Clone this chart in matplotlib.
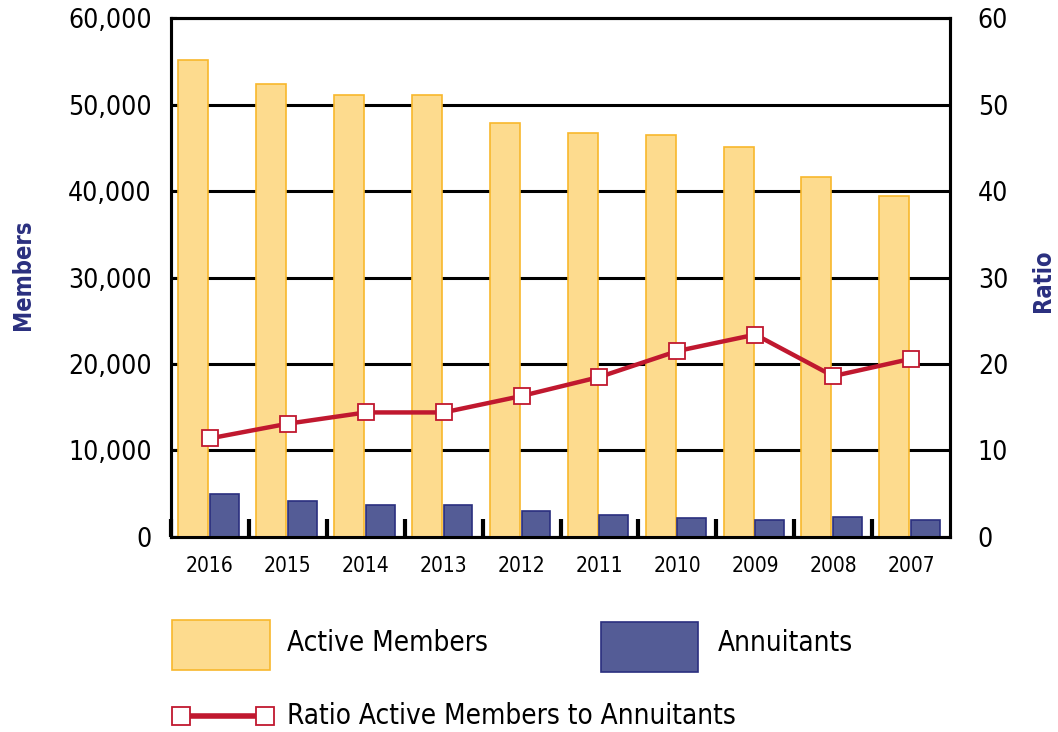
import numpy as np
import matplotlib
matplotlib.use('Agg')
import matplotlib.pyplot as plt
from matplotlib import font_manager
from matplotlib.patches import Rectangle
from matplotlib.lines import Line2D
from matplotlib.ticker import FuncFormatter

# pick a narrow font if one is installed
names = {(f.name, f.stretch) for f in font_manager.fontManager.ttflist}
font_names = {n for n, s in names}
if 'Liberation Sans Narrow' in font_names:
    plt.rcParams['font.family'] = ['Liberation Sans Narrow', 'DejaVu Sans']
elif any(n == 'DejaVu Sans' and s == 'condensed' for n, s in names):
    plt.rcParams['font.family'] = ['DejaVu Sans']
    plt.rcParams['font.stretch'] = 'condensed'
else:
    plt.rcParams['font.family'] = ['Liberation Sans', 'DejaVu Sans']

# Data
years = ['2016', '2015', '2014', '2013', '2012', '2011', '2010', '2009', '2008', '2007']
active_members = [55100, 52400, 51100, 51100, 47900, 46700, 46500, 45100, 41600, 39400]
annuitants = [5000, 4200, 3750, 3700, 3050, 2600, 2250, 2000, 2350, 2000]
ratio = [11.4, 13.1, 14.4, 14.4, 16.3, 18.5, 21.5, 23.4, 18.6, 20.6]

active_face = '#FDDB8E'
active_edge = '#F8B72C'
annu_face = '#545C96'
annu_edge = '#2A2F7F'
line_red = '#C0182F'
navy = '#2A2F7F'

fig = plt.figure(figsize=(10.58, 7.32), dpi=100)
ax = fig.add_axes([0.1616, 0.2664, 0.7364, 0.709])

x = np.arange(len(years))
ax.bar(x - 0.215, active_members, width=0.385, color=active_face,
       edgecolor=active_edge, linewidth=1.2, zorder=3)
ax.bar(x + 0.185, annuitants, width=0.37, color=annu_face,
       edgecolor=annu_edge, linewidth=1.2, zorder=3)

ax.set_xlim(-0.5, len(years) - 0.5)
ax.set_ylim(0, 60000)
ax.set_yticks(np.arange(0, 60001, 10000))
ax.yaxis.set_major_formatter(FuncFormatter(lambda v, p: f'{int(v):,}'))
ax.grid(axis='y', color='black', linewidth=2.2, zorder=1)
ax.set_xticks(x)
ax.set_xticklabels(years, fontsize=15)
ax.tick_params(axis='x', which='major', length=0, pad=14)
ax.set_xticks(np.arange(-0.5, len(years) - 1, 1.0), minor=True)
ax.tick_params(axis='x', which='minor', direction='in', length=13, width=3, color='black')
ax.tick_params(axis='y', labelsize=19, direction='in', length=4, width=1.5, pad=14)
for s in ax.spines.values():
    s.set_linewidth(2.2)
    s.set_color('black')

ax2 = ax.twinx()
ax2.plot(x, ratio, color=line_red, linewidth=3.2, marker='s', markersize=12,
         markerfacecolor='white', markeredgecolor=line_red, markeredgewidth=1.3, zorder=5)
ax2.set_ylim(0, 60)
ax2.set_yticks(np.arange(0, 61, 10))
ax2.tick_params(axis='y', labelsize=19, length=0, pad=20)
for s in ax2.spines.values():
    s.set_linewidth(2.2)

fig.text(0.022, 0.625, 'Members', rotation=90, ha='center', va='center',
         fontsize=17, fontweight='bold', color=navy)
fig.text(0.986, 0.617, 'Ratio', rotation=90, ha='center', va='center',
         fontsize=17, fontweight='bold', color=navy)

# Legend drawn by hand to match the reference layout
W, H = 1058, 732
fig.patches.append(Rectangle((172 / W, 1 - 670 / H), 98 / W, 50 / H, transform=fig.transFigure,
                             facecolor=active_face, edgecolor=active_edge, linewidth=1.2))
fig.text(287 / W, 1 - 643 / H, 'Active Members', fontsize=20, va='center', ha='left')
fig.patches.append(Rectangle((601 / W, 1 - 672 / H), 97 / W, 50 / H, transform=fig.transFigure,
                             facecolor=annu_face, edgecolor=annu_edge, linewidth=1.2))
fig.text(718 / W, 1 - 643 / H, 'Annuitants', fontsize=20, va='center', ha='left')
fig.lines.append(Line2D([181 / W, 265 / W], [1 - 716 / H, 1 - 716 / H], transform=fig.transFigure,
                        color=line_red, linewidth=4, marker='s', markersize=13,
                        markerfacecolor='white', markeredgecolor=line_red, markeredgewidth=1.3))
fig.text(287 / W, 1 - 716 / H, 'Ratio Active Members to Annuitants', fontsize=20,
         va='center', ha='left')

fig.savefig('out.png', dpi=100)
